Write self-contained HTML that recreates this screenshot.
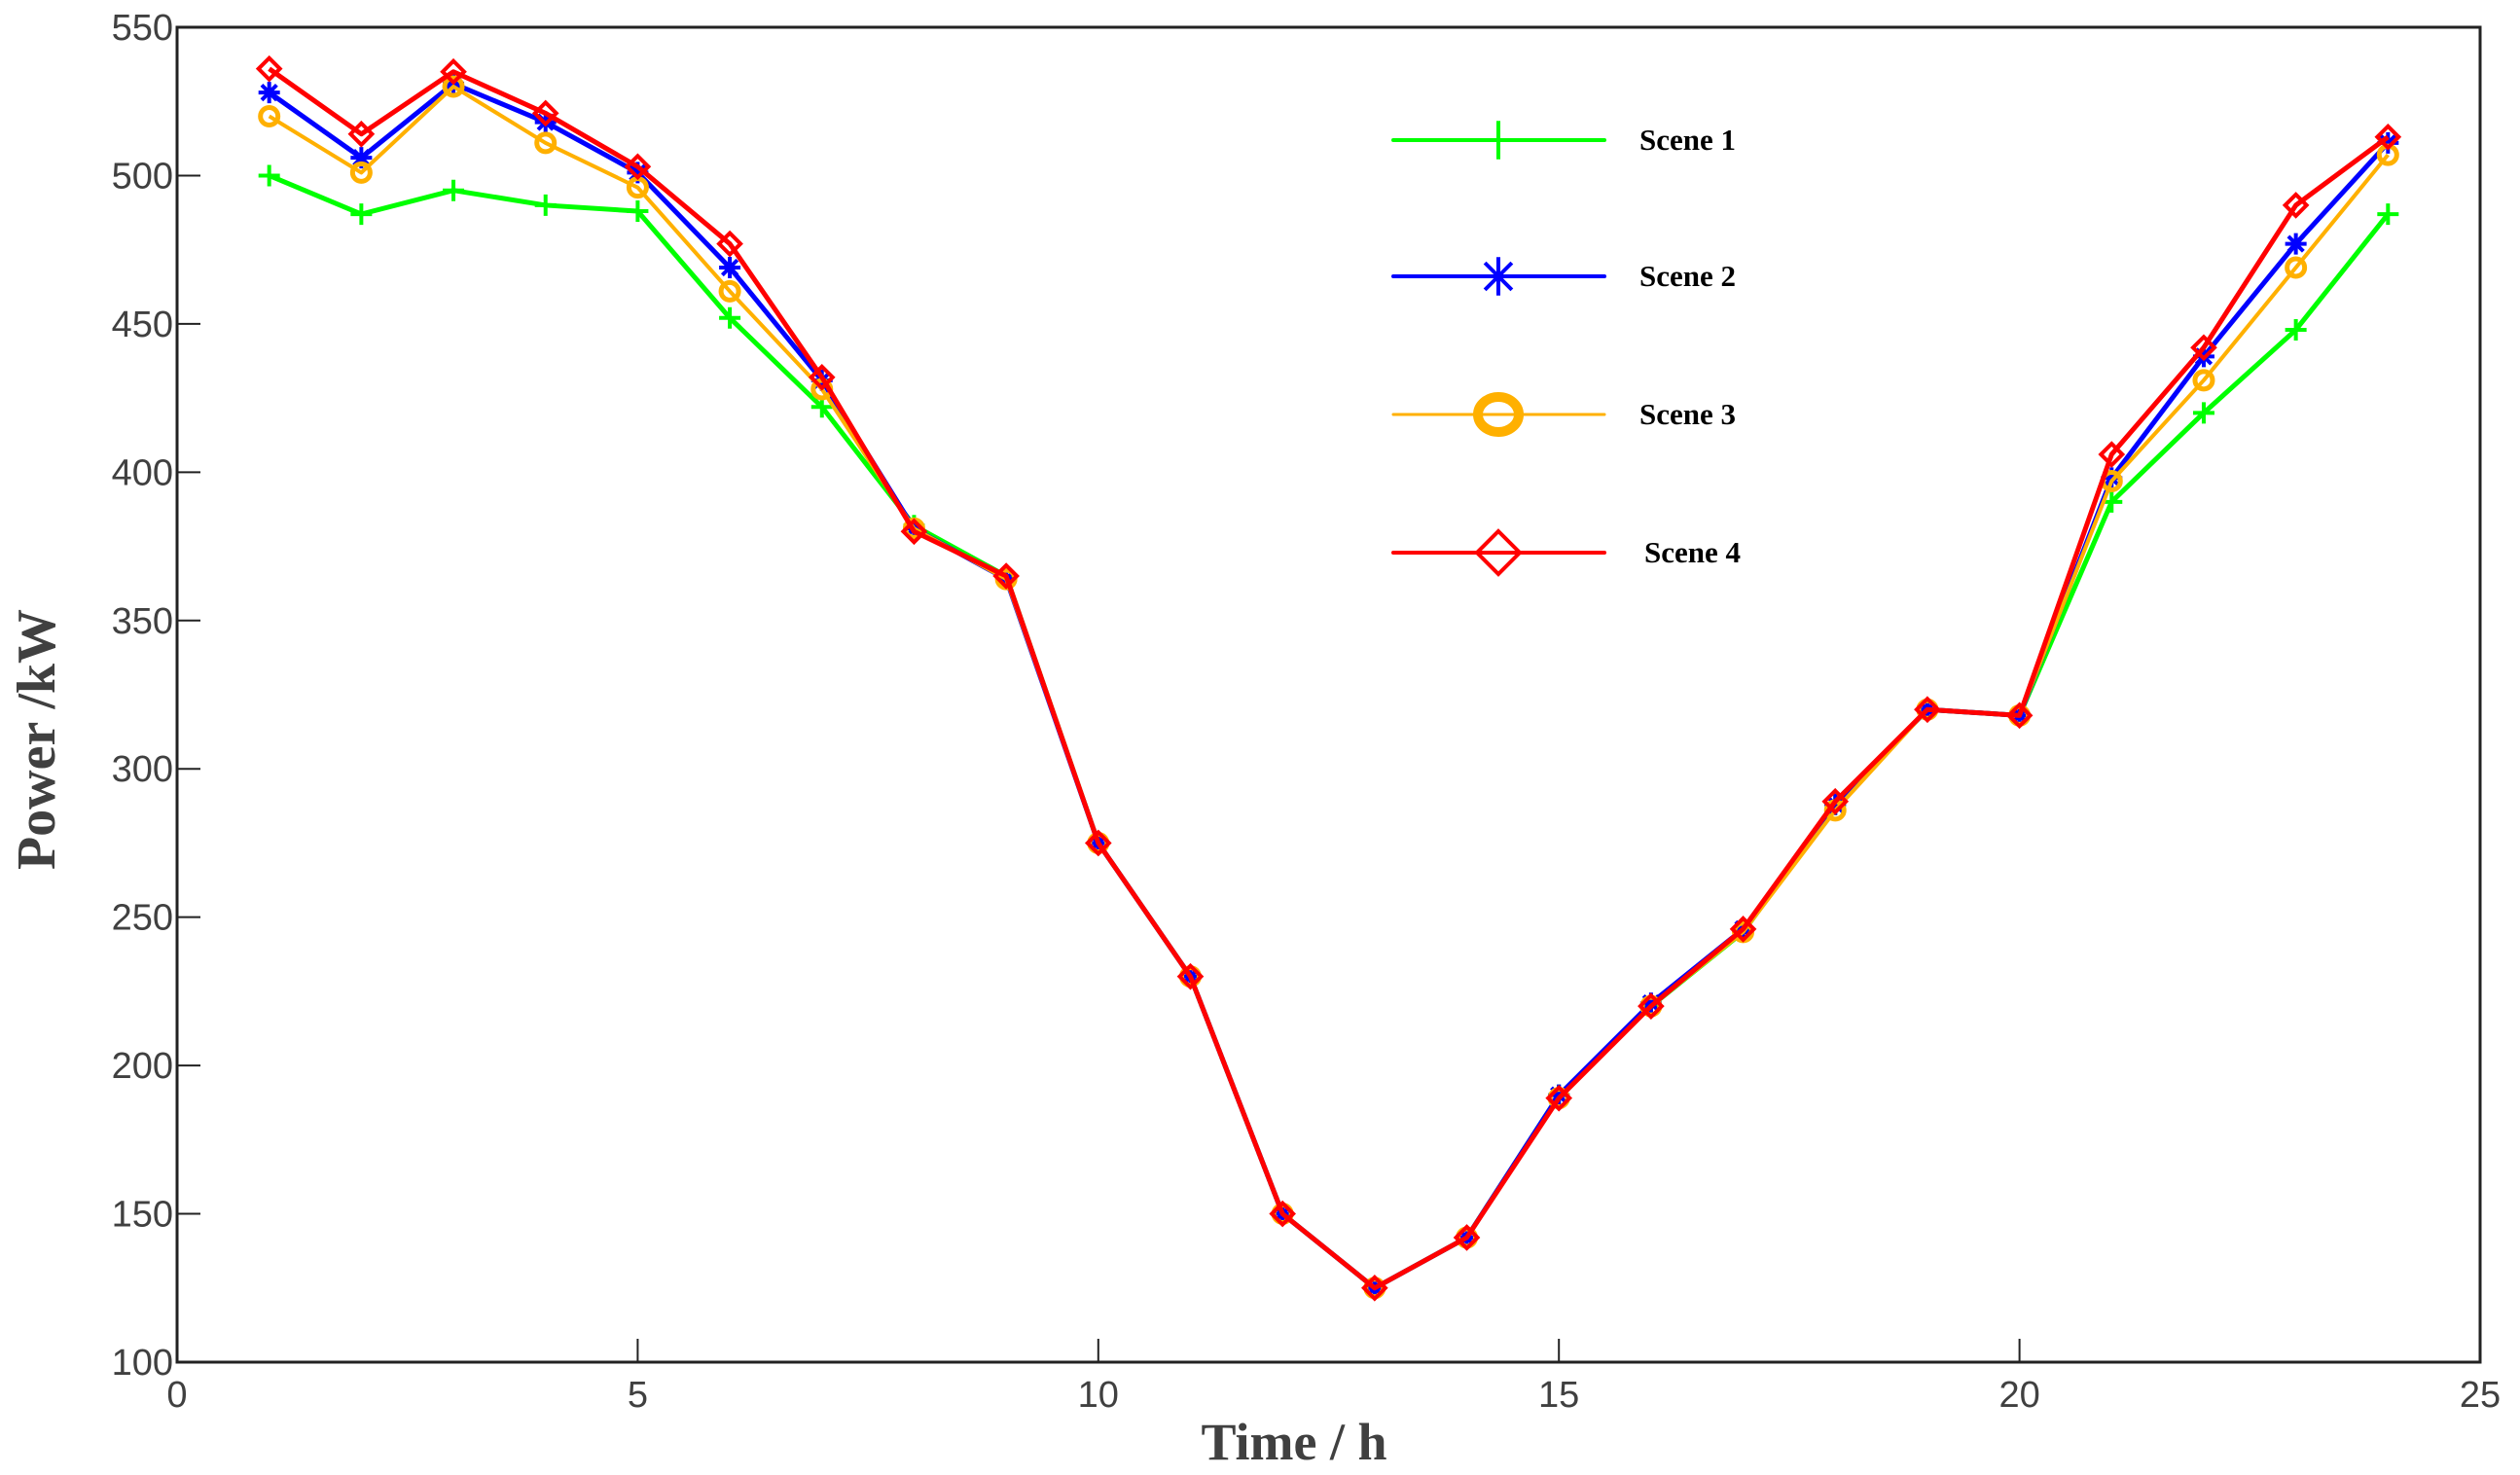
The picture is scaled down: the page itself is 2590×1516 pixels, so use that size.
<!DOCTYPE html>
<html><head><meta charset="utf-8"><style>
html,body{margin:0;padding:0;background:#fff;}
svg{display:block;}
</style></head><body>
<svg id="chart" width="2590" height="1516" xmlns="http://www.w3.org/2000/svg"></svg>
<script>
const hours = [1,2,3,4,5,6,7,8,9,10,11,12,13,14,15,16,17,18,19,20,21,22,23,24];
const scene1 = [500,487,495,490,488,452,422,382,365,275,230,150,125,142,190,220,245,288,320,318,390,420,448,487];
const scene2 = [528,506,531,518,501,469,431,381,364,275,230,150,125,142,190,221,246,288,320,318,398,439,477,511];
const scene3 = [520,501,530,511,496,461,428,381,364,275,230,150,125,142,189,220,245,286,320,318,397,431,469,507];
const scene4 = [536,514,535,521,503,477,432,380,365,275,230,150,125,142,189,220,246,289,320,318,406,442,490,513];
const xTicks = [0,5,10,15,20,25];
const yTicks = [100,150,200,250,300,350,400,450,500,550];
const seriesNames = ["Scene  1","Scene  2","Scene  3","Scene  4"];

const L=182,R=2549,T=28,B=1400;
const sx=v=>L+(v-0)/(25-0)*(R-L);
const sy=v=>B-(v-100)/(550-100)*(B-T);
const svg=document.getElementById('chart');
const NS='http://www.w3.org/2000/svg';
function mk(tag,attrs,parent){const e=document.createElementNS(NS,tag);for(const k in attrs)e.setAttribute(k,attrs[k]);(parent||svg).appendChild(e);return e;}

const box=mk('path',{d:`M${L},${T}H${R}V${B}H${L}Z`,fill:'none',stroke:'#222','stroke-width':3});



xTicks.forEach(t=>{
  const x=sx(t);
  const tk=mk('line',{x1:x,y1:B,x2:x,y2:B-24,stroke:'#222','stroke-width':2});
  
  
  const tx=mk('text',{x:x,y:B+46,'text-anchor':'middle','font-family':'Liberation Sans, sans-serif','font-size':38,fill:'#404040'});
  tx.textContent=t;
  
  
});
yTicks.forEach(t=>{
  const y=sy(t);
  const tk=mk('line',{x1:L,y1:y,x2:L+24,y2:y,stroke:'#222','stroke-width':2});
  
  
  const tx=mk('text',{x:L-4,y:y+13,'text-anchor':'end','font-family':'Liberation Sans, sans-serif','font-size':38,fill:'#404040'});
  tx.textContent=t;
  
  
});

const xt=mk('text',{x:1330,y:1500,'text-anchor':'middle','font-family':'Liberation Serif, serif','font-size':54,'font-weight':'bold',fill:'#404040'});
xt.textContent='Time   / h';


const yt=mk('text',{x:0,y:0,transform:'translate(56,760) rotate(-90)','text-anchor':'middle','font-family':'Liberation Serif, serif','font-size':56,'font-weight':'bold',fill:'#404040'});
yt.textContent='Power /kW';



const colors=['#00ff00','#0000ff','#ffb000','#ff0000'];
const datas=[scene1,scene2,scene3,scene4];

function marker(kind,x,y,col,g,big){
  const s=big?1.8:1;
  if(kind===0){mk('path',{d:`M${x-11*s},${y}H${x+11*s}M${x},${y-11*s}V${y+11*s}`,stroke:col,'stroke-width':4,fill:'none'},g);}
  else if(kind===1){const r=11*s;mk('path',{d:`M${x-r},${y}H${x+r}M${x},${y-r}V${y+r}M${x-r*.7},${y-r*.7}L${x+r*.7},${y+r*.7}M${x-r*.7},${y+r*.7}L${x+r*.7},${y-r*.7}`,stroke:col,'stroke-width':4,fill:'none'},g);}
  else if(kind===2){mk('ellipse',{cx:x,cy:y,rx:big?21:9,ry:big?18:9,stroke:col,'stroke-width':big?10:5,fill:'none'},g);}
  else {const r=big?22:11;mk('path',{d:`M${x},${y-r}L${x+r},${y}L${x},${y+r}L${x-r},${y}Z`,stroke:col,'stroke-width':4,fill:'none'},g);}
}

datas.forEach((d,i)=>{
  const g=mk('g',{});
  
  
  const pts=d.map((v,j)=>sx(hours[j])+','+sy(v)).join(' ');
  const pl=mk('polyline',{points:pts,fill:'none',stroke:colors[i],'stroke-width':i===2?4:5,'stroke-linejoin':'round'},g);
  
  
  d.forEach((v,j)=>marker(i,sx(hours[j]),sy(v),colors[i],g,false));
});

const legY=[144,284,426,568];
seriesNames.forEach((n,i)=>{
  const g=mk('g',{});
  
  
  mk('line',{x1:1432,y1:legY[i],x2:1649,y2:legY[i],stroke:colors[i],'stroke-width':i===2?3:4,'stroke-linecap':'round'},g);
  marker(i,1540,legY[i],colors[i],g,true);
  const t=mk('text',{x:i===3?1690:1685,y:legY[i]+10,'font-family':'Liberation Serif, serif','font-size':31,'font-weight':'bold',fill:'#000'},g);
  t.textContent=n;
});
</script>
</body></html>
